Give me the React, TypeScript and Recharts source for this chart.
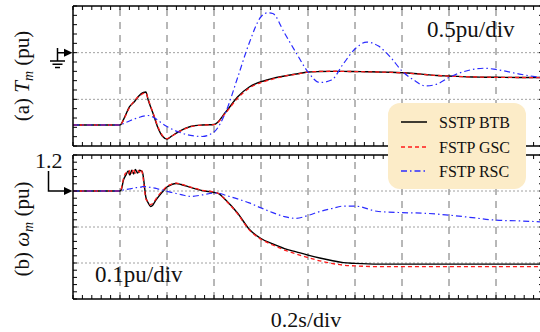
import React from "react";
import { LineChart, Line, XAxis, YAxis, ReferenceLine } from "recharts";

// (a) mechanical torque, pu
const tmTime = [0, 0.1, 0.2, 0.22, 0.24, 0.26, 0.28, 0.3, 0.31, 0.32, 0.34, 0.36, 0.38, 0.4, 0.42, 0.45, 0.5, 0.55, 0.6, 0.65, 0.7, 0.75, 0.8, 0.83, 0.85, 0.9, 0.95, 1.0, 1.05, 1.1, 1.15, 1.2, 1.25, 1.3, 1.35, 1.4, 1.45, 1.5, 1.55, 1.6, 1.7, 1.75, 1.8, 1.9, 2.0];
const tmBtb = [-0.775, -0.775, -0.775, -0.689, -0.582, -0.529, -0.464, -0.427, -0.421, -0.507, -0.646, -0.796, -0.893, -0.925, -0.893, -0.845, -0.791, -0.775, -0.77, -0.636, -0.475, -0.368, -0.311, -0.29, -0.275, -0.25, -0.229, -0.207, -0.202, -0.2, -0.2, -0.202, -0.204, -0.207, -0.21, -0.215, -0.223, -0.234, -0.245, -0.25, -0.261, -0.263, -0.264, -0.266, -0.266];
const tmGsc = [-0.775, -0.775, -0.775, -0.695, -0.59, -0.52, -0.47, -0.435, -0.43, -0.5, -0.64, -0.785, -0.885, -0.92, -0.895, -0.848, -0.794, -0.776, -0.772, -0.645, -0.49, -0.38, -0.32, -0.298, -0.283, -0.252, -0.231, -0.208, -0.201, -0.199, -0.2, -0.203, -0.205, -0.207, -0.211, -0.216, -0.224, -0.235, -0.244, -0.251, -0.26, -0.262, -0.264, -0.266, -0.267];
const tmRsc = [-0.775, -0.775, -0.775, -0.754, -0.732, -0.711, -0.695, -0.679, -0.675, -0.673, -0.689, -0.721, -0.759, -0.791, -0.818, -0.85, -0.887, -0.898, -0.85, -0.636, -0.271, 0.104, 0.385, 0.428, 0.42, 0.21, -0.004, -0.207, -0.32, -0.293, -0.121, 0.039, 0.114, 0.071, -0.046, -0.196, -0.293, -0.357, -0.336, -0.266, -0.18, -0.167, -0.18, -0.229, -0.271];

// (b) rotor speed, pu
const wmTime = [0, 0.1, 0.2, 0.205, 0.215, 0.225, 0.235, 0.242, 0.25, 0.258, 0.265, 0.275, 0.283, 0.29, 0.295, 0.3, 0.305, 0.31, 0.32, 0.33, 0.34, 0.35, 0.36, 0.38, 0.4, 0.42, 0.44, 0.46, 0.5, 0.55, 0.6, 0.62, 0.65, 0.7, 0.75, 0.8, 0.85, 0.9, 0.95, 1.0, 1.05, 1.1, 1.15, 1.2, 1.3, 1.4, 1.5, 1.6, 1.7, 1.8, 1.9, 2.0];
const wmBtb = [1.2, 1.2, 1.2, 1.203, 1.231, 1.244, 1.256, 1.244, 1.258, 1.247, 1.26, 1.25, 1.258, 1.256, 1.253, 1.236, 1.208, 1.183, 1.167, 1.157, 1.161, 1.172, 1.181, 1.197, 1.211, 1.218, 1.221, 1.218, 1.21, 1.201, 1.196, 1.193, 1.175, 1.139, 1.094, 1.068, 1.053, 1.04, 1.031, 1.022, 1.014, 1.007, 1.001, 0.999, 0.997, 0.997, 0.997, 0.997, 0.997, 0.997, 0.997, 0.997];
const wmGsc = [1.2, 1.2, 1.2, 1.205, 1.235, 1.25, 1.245, 1.258, 1.25, 1.262, 1.25, 1.258, 1.252, 1.26, 1.25, 1.228, 1.2, 1.178, 1.17, 1.162, 1.166, 1.175, 1.185, 1.2, 1.213, 1.219, 1.222, 1.219, 1.211, 1.202, 1.197, 1.193, 1.174, 1.137, 1.092, 1.066, 1.05, 1.036, 1.025, 1.015, 1.006, 0.999, 0.994, 0.992, 0.99, 0.99, 0.99, 0.99, 0.99, 0.99, 0.99, 0.99];
const wmRsc = [1.2, 1.2, 1.2, 1.201, 1.203, 1.204, 1.205, 1.206, 1.207, 1.208, 1.209, 1.21, 1.211, 1.211, 1.212, 1.212, 1.212, 1.212, 1.211, 1.21, 1.209, 1.208, 1.206, 1.203, 1.199, 1.196, 1.193, 1.19, 1.185, 1.189, 1.194, 1.194, 1.188, 1.178, 1.167, 1.153, 1.14, 1.129, 1.124, 1.132, 1.143, 1.151, 1.158, 1.158, 1.143, 1.14, 1.138, 1.133, 1.126, 1.119, 1.117, 1.114];

const seriesNames = ["SSTP BTB", "FSTP GSC", "FSTP RSC"];
const timeGrid = [0.2, 0.4, 0.6, 0.8, 1.0, 1.2, 1.4, 1.6, 1.8];
const tmGrid = [-0.5, 0];
const wmGrid = [1.0, 1.1, 1.2];

const styles = [
  { key: "btb", stroke: "#000000", width: 1.4, dash: undefined },
  { key: "gsc", stroke: "#ff1a1a", width: 1.3, dash: "4 3" },
  { key: "rsc", stroke: "#2b2bff", width: 1.2, dash: "6 3 1.5 3" },
];

// minor tick positions (5 per division)
function steps(from: number, to: number, step: number) {
  const out: number[] = [];
  const n = Math.round((to - from) / step);
  for (let i = 0; i <= n; i++) out.push(+(from + i * step).toFixed(4));
  return out;
}
const timeTicks = steps(0, 2, 0.04);
const tmTicks = steps(-1, 0.5, 0.1);
const wmTicks = steps(0.9, 1.3, 0.02);

const tmData = tmTime.map((t, i) => ({ t, btb: tmBtb[i], gsc: tmGsc[i], rsc: tmRsc[i] }));
const wmData = wmTime.map((t, i) => ({ t, btb: wmBtb[i], gsc: wmGsc[i], rsc: wmRsc[i] }));

const FONT = '"Liberation Serif", "Times New Roman", serif';
const blank = () => "";

function Panel({ data, domain, yTicks, hGrid, height, margin }: any) {
  const axis = { stroke: "#000", strokeWidth: 1.5 };
  const tl = { stroke: "#000", strokeWidth: 1 };
  const common = { interval: 0 as const, tickFormatter: blank, mirror: true, tickSize: 4, axisLine: axis, tickLine: tl, allowDataOverflow: true, tick: { fontSize: 1 } };
  return (
    <LineChart width={540} height={height} data={data} margin={margin}>
      <XAxis xAxisId="b" dataKey="t" type="number" domain={[0, 2]} ticks={timeTicks} height={1} {...common} />
      <XAxis xAxisId="t" orientation="top" dataKey="t" type="number" domain={[0, 2]} ticks={timeTicks} height={1} {...common} />
      <YAxis yAxisId="l" type="number" domain={domain} ticks={yTicks} width={1} {...common} />
      <YAxis yAxisId="r" orientation="right" type="number" domain={domain} ticks={yTicks} width={1} {...common} />
      {timeGrid.map((v) => (
        <ReferenceLine key={"x" + v} xAxisId="b" yAxisId="l" x={v} stroke="#707070" strokeWidth={1} strokeDasharray="7 6" />
      ))}
      {hGrid.map((v: number) => (
        <ReferenceLine key={"y" + v} xAxisId="b" yAxisId="l" y={v} stroke="#a0a0a0" strokeWidth={1} strokeDasharray="2 2" />
      ))}
      {styles.map((s) => (
        <Line key={s.key} xAxisId="b" yAxisId="l" type="monotone" dataKey={s.key} stroke={s.stroke} strokeWidth={s.width} strokeDasharray={s.dash} dot={false} isAnimationActive={false} />
      ))}
    </LineChart>
  );
}

function LegendBox() {
  const rows = [19, 44, 68];
  return (
    <div style={{ position: "absolute", left: 388, top: 103, width: 138, height: 86, borderRadius: 12, background: "#fcecc8" }}>
      <svg width={138} height={86}>
        {seriesNames.map((name, i) => (
          <g key={name}>
            <line x1={13} x2={39} y1={rows[i]} y2={rows[i]} stroke={styles[i].stroke} strokeWidth={1.5} strokeDasharray={styles[i].dash} />
            <text x={51} y={rows[i] + 5.5} style={{ fontSize: 16, fontFamily: FONT }} fill="#111">{name}</text>
          </g>
        ))}
      </svg>
    </div>
  );
}

export default function App() {
  const txt = { fontFamily: FONT };
  return (
    <div style={{ position: "absolute", left: 0, top: 0, width: 540, height: 332, background: "#fff", overflow: "hidden", fontFamily: FONT }}>
      <div style={{ position: "absolute", left: 0, top: 0 }}>
        <Panel data={tmData} domain={[-1, 0.5]} yTicks={tmTicks} hGrid={tmGrid} height={150} margin={{ top: 6, right: -3, bottom: 4, left: 73 }} />
      </div>
      <div style={{ position: "absolute", left: 0, top: 150 }}>
        <Panel data={wmData} domain={[0.9, 1.3]} yTicks={wmTicks} hGrid={wmGrid} height={182} margin={{ top: 5, right: -3, bottom: 33, left: 73 }} />
      </div>
      <svg width={540} height={332} style={{ position: "absolute", left: 0, top: 0 }} fill="#111">
        <text transform="translate(29,76) rotate(-90)" textAnchor="middle" style={{ ...txt, fontSize: 21 }}>
          (a) <tspan fontStyle="italic">T</tspan><tspan fontStyle="italic" style={{ fontSize: 14 }} dy={4}>m</tspan><tspan dy={-4}> (pu)</tspan>
        </text>
        <text transform="translate(29,229) rotate(-90)" textAnchor="middle" style={{ ...txt, fontSize: 21 }}>
          (b) <tspan fontStyle="italic">ω</tspan><tspan fontStyle="italic" style={{ fontSize: 14 }} dy={4}>m</tspan><tspan dy={-4}> (pu)</tspan>
        </text>
        <text x={427} y={37} style={{ ...txt, fontSize: 23 }}>0.5pu/div</text>
        <text x={95} y={282} style={{ ...txt, fontSize: 23 }}>0.1pu/div</text>
        <text x={306} y={327} textAnchor="middle" style={{ ...txt, fontSize: 22 }}>0.2s/div</text>
        <text x={35} y={168} style={{ ...txt, fontSize: 22 }}>1.2</text>
        {/* zero-torque marker */}
        <path d="M57.5 48 V61 M57.5 52.7 H65 M50 61 H65 M52.5 64.3 H62.5 M55 67.6 H60" stroke="#000" strokeWidth={1.5} fill="none" />
        <path d="M64 48.7 L72.5 52.7 L64 56.7 Z" fill="#000" />
        {/* 1.2 pu marker */}
        <path d="M48.5 171 V191 H65" stroke="#000" strokeWidth={1.5} fill="none" />
        <path d="M64 187 L72.5 191 L64 195 Z" fill="#000" />
      </svg>
      <LegendBox />
    </div>
  );
}
